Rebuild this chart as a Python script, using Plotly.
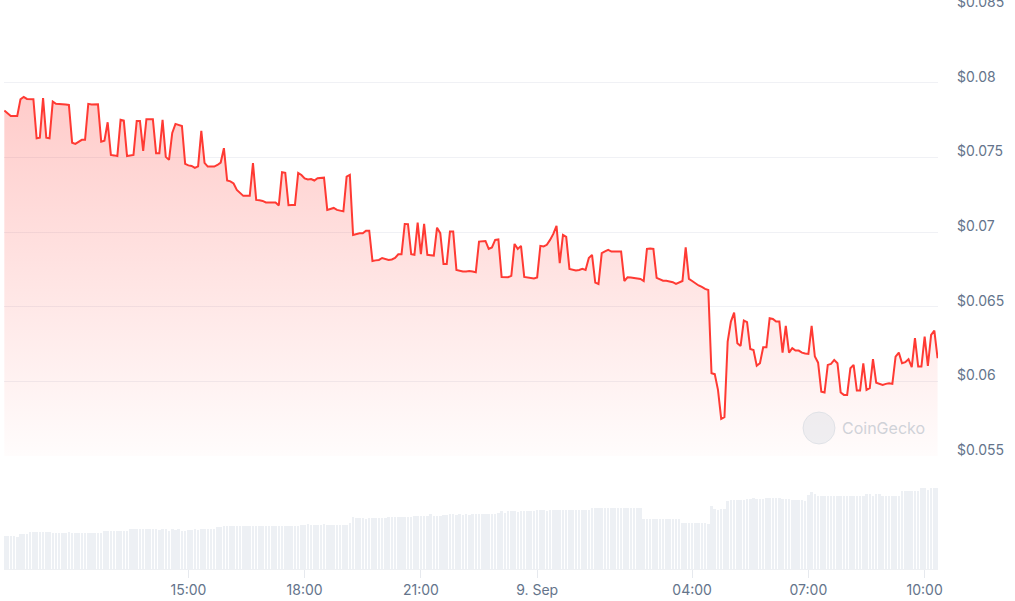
import pandas as pd
import plotly.graph_objects as go

start_time = "2024-09-08 10:15"
step = "5min"

prices = [
    0.07813, 0.07797, 0.07777, 0.07777, 0.07777, 0.07889, 0.07904, 0.07891, 0.07889, 0.07889,
    0.07628, 0.07632, 0.07896, 0.07632, 0.07628, 0.07873, 0.07858, 0.07858, 0.07858, 0.07854,
    0.07851, 0.07598, 0.07590, 0.07603, 0.07617, 0.07617, 0.07858, 0.07854, 0.07854, 0.07856,
    0.07605, 0.07612, 0.07735, 0.07516, 0.07513, 0.07509, 0.07751, 0.07746, 0.07509, 0.07513,
    0.07516, 0.07744, 0.07744, 0.07543, 0.07755, 0.07755, 0.07755, 0.07528, 0.07528, 0.07751,
    0.07503, 0.07483, 0.07663, 0.07724, 0.07717, 0.07710, 0.07456, 0.07446, 0.07442, 0.07429,
    0.07439, 0.07677, 0.07463, 0.07438, 0.07438, 0.07438, 0.07449, 0.07465, 0.07561, 0.07345,
    0.07339, 0.07325, 0.07282, 0.07262, 0.07242, 0.07242, 0.07242, 0.07461, 0.07215, 0.07212,
    0.07208, 0.07198, 0.07199, 0.07201, 0.07198, 0.07178, 0.07400, 0.07396, 0.07179, 0.07180,
    0.07181, 0.07396, 0.07382, 0.07359, 0.07352, 0.07355, 0.07345, 0.07360, 0.07362, 0.07364,
    0.07148, 0.07155, 0.07161, 0.07148, 0.07141, 0.07138, 0.07371, 0.07382, 0.06980, 0.06987,
    0.06991, 0.06991, 0.07009, 0.07009, 0.06806, 0.06810, 0.06813, 0.06826, 0.06820, 0.06813,
    0.06816, 0.06826, 0.06851, 0.06851, 0.07054, 0.07053, 0.06851, 0.06847, 0.07063, 0.06851,
    0.07054, 0.06847, 0.06845, 0.06842, 0.07029, 0.06992, 0.06786, 0.06786, 0.07003, 0.07003,
    0.06746, 0.06739, 0.06736, 0.06736, 0.06739, 0.06736, 0.06731, 0.06936, 0.06937, 0.06940,
    0.06887, 0.06897, 0.06947, 0.06950, 0.06699, 0.06697, 0.06697, 0.06706, 0.06920, 0.06887,
    0.06907, 0.06699, 0.06695, 0.06689, 0.06689, 0.06696, 0.06907, 0.06903, 0.06914, 0.06947,
    0.06987, 0.07041, 0.06791, 0.06980, 0.06967, 0.06753, 0.06749, 0.06743, 0.06746, 0.06753,
    0.06746, 0.06826, 0.06847, 0.06661, 0.06652, 0.06858, 0.06870, 0.06880, 0.06869, 0.06869,
    0.06869, 0.06869, 0.06672, 0.06697, 0.06696, 0.06691, 0.06691, 0.06686, 0.06672, 0.06887,
    0.06890, 0.06887, 0.06693, 0.06682, 0.06674, 0.06674, 0.06669, 0.06664, 0.06652, 0.06662,
    0.06672, 0.06898, 0.06686, 0.06672, 0.06656, 0.06642, 0.06632, 0.06619, 0.06612, 0.06054,
    0.06048, 0.05943, 0.05748, 0.05760, 0.06266, 0.06400, 0.06460, 0.06255, 0.06237, 0.06407,
    0.06396, 0.06217, 0.06210, 0.06105, 0.06121, 0.06228, 0.06228, 0.06423, 0.06418, 0.06400,
    0.06400, 0.06192, 0.06371, 0.06192, 0.06222, 0.06206, 0.06206, 0.06192, 0.06187, 0.06184,
    0.06371, 0.06166, 0.06125, 0.05931, 0.05925, 0.06110, 0.06117, 0.06143, 0.06121, 0.05925,
    0.05909, 0.05909, 0.06088, 0.06110, 0.05938, 0.05938, 0.06121, 0.05943, 0.05954, 0.06148,
    0.05991, 0.05983, 0.05976, 0.05983, 0.05987, 0.05983, 0.06166, 0.06192, 0.06121, 0.06128,
    0.06148, 0.06095, 0.06289, 0.06099, 0.06099, 0.06300, 0.06103, 0.06311, 0.06340, 0.06155,
]

volumes_musd = [
    3.33, 3.33, 3.33, 3.33, 3.20, 3.50, 3.50, 3.50, 3.67, 3.67,
    3.67, 3.67, 3.67, 3.67, 3.67, 3.60, 3.60, 3.60, 3.60, 3.60,
    3.70, 3.60, 3.60, 3.60, 3.60, 3.60, 3.60, 3.60, 3.60, 3.60,
    3.60, 3.83, 3.83, 3.83, 3.83, 3.83, 3.83, 3.83, 3.83, 3.97,
    3.97, 3.97, 3.97, 3.97, 4.00, 3.97, 3.97, 3.97, 3.90, 3.97,
    3.97, 3.77, 3.97, 3.90, 3.97, 3.83, 3.83, 3.90, 3.90, 3.97,
    3.90, 4.03, 4.03, 4.03, 4.03, 4.03, 4.20, 4.20, 4.33, 4.33,
    4.33, 4.33, 4.33, 4.33, 4.33, 4.33, 4.33, 4.33, 4.33, 4.33,
    4.33, 4.33, 4.33, 4.33, 4.33, 4.33, 4.30, 4.33, 4.33, 4.33,
    4.33, 4.33, 4.37, 4.37, 4.47, 4.37, 4.37, 4.37, 4.37, 4.50,
    4.37, 4.37, 4.37, 4.37, 4.37, 4.37, 4.37, 4.60, 5.17, 5.07,
    5.07, 5.07, 5.00, 5.07, 5.07, 5.07, 5.07, 5.07, 5.07, 5.17,
    5.17, 5.17, 5.17, 5.17, 5.17, 5.17, 5.17, 5.33, 5.33, 5.33,
    5.33, 5.33, 5.50, 5.33, 5.33, 5.33, 5.40, 5.40, 5.50, 5.50,
    5.40, 5.50, 5.40, 5.50, 5.40, 5.55, 5.55, 5.55, 5.55, 5.55,
    5.55, 5.55, 5.55, 5.60, 5.77, 5.60, 5.77, 5.77, 5.77, 5.70,
    5.77, 5.77, 5.77, 5.77, 5.77, 5.87, 5.87, 5.87, 5.80, 5.87,
    5.87, 5.87, 5.87, 5.90, 5.87, 5.87, 5.87, 5.87, 5.87, 5.87,
    5.87, 5.87, 6.07, 6.07, 6.07, 6.07, 6.07, 6.07, 6.07, 6.07,
    6.07, 6.07, 6.07, 6.07, 6.07, 6.07, 6.07, 6.07, 5.00, 5.00,
    5.00, 5.00, 5.00, 5.00, 5.00, 5.00, 5.00, 5.00, 5.00, 5.00,
    4.60, 4.60, 4.60, 4.60, 4.60, 4.60, 4.60, 4.60, 4.47, 6.33,
    6.00, 5.90, 6.00, 6.00, 6.77, 6.93, 6.93, 6.93, 6.93, 6.93,
    7.03, 7.03, 7.10, 7.03, 7.03, 7.03, 7.10, 7.10, 7.10, 7.10,
    7.10, 7.03, 7.03, 7.03, 6.93, 6.93, 6.93, 6.93, 6.77, 7.43,
    7.67, 7.50, 7.27, 7.27, 7.27, 7.27, 7.27, 7.27, 7.27, 7.33,
    7.33, 7.33, 7.33, 7.33, 7.33, 7.27, 7.33, 7.53, 7.53, 7.27,
    7.53, 7.53, 7.33, 7.33, 7.33, 7.33, 7.33, 7.33, 7.77, 7.77,
    7.77, 7.77, 7.77, 7.77, 8.10, 8.10, 7.90, 8.10, 8.10, 8.10,
]

tick_times = ["2024-09-08 15:00", "2024-09-08 18:00", "2024-09-08 21:00",
              "2024-09-09 00:00", "2024-09-09 04:00", "2024-09-09 07:00",
              "2024-09-09 10:00"]
tick_labels = ["15:00", "18:00", "21:00", "9. Sep", "04:00", "07:00", "10:00"]

price_ticks = [0.055, 0.06, 0.065, 0.07, 0.075, 0.08, 0.085]
price_tick_labels = ["$0.055", "$0.06", "$0.065", "$0.07", "$0.075", "$0.08", "$0.085"]

times = pd.date_range(start=start_time, periods=len(prices), freq=step)

LINE = "#ff3a33"
TXT = "#64748b"
FONT = "Inter"

fig = go.Figure()

fig.add_trace(go.Bar(
    x=times, y=volumes_musd, yaxis="y2",
    marker=dict(color="#edf0f4", line=dict(width=0)),
    width=5 * 60 * 1000 * 0.78,
    hoverinfo="skip", showlegend=False,
))

fig.add_trace(go.Scatter(
    x=times, y=prices, mode="lines", yaxis="y",
    line=dict(color=LINE, width=2),
    fill="tozeroy",
    fillgradient=dict(
        type="vertical", start=0.055, stop=0.0791,
        colorscale=[[0, "rgba(255,58,51,0.015)"], [1, "rgba(255,58,51,0.26)"]],
    ),
    showlegend=False,
))

H_PLOT = 569.0
W_PLOT = 934.0
price_bottom = 1 - 456 / H_PLOT
price_top = 1 - 8 / H_PLOT

fig.update_layout(
    width=1015, height=601,
    margin=dict(l=4, r=77, t=0, b=32, autoexpand=False),
    paper_bgcolor="white", plot_bgcolor="white",
    font=dict(family=FONT, size=14, color=TXT),
    bargap=0,
    xaxis=dict(
        range=["2024-09-08 10:14:30", "2024-09-09 10:20:40"],
        anchor="y2", automargin=False,
        tickmode="array", tickvals=tick_times, ticktext=tick_labels,
        ticks="outside", ticklen=8, tickcolor="#e6e9ee", tickwidth=1,
        showgrid=False, zeroline=False,
        showline=True, linecolor="#eef0f3", linewidth=1,
        tickfont=dict(family=FONT, size=14, color=TXT),
    ),
    yaxis=dict(
        domain=[price_bottom, price_top],
        range=[0.055, 0.085],
        side="right", automargin=False,
        tickmode="array", tickvals=price_ticks, ticktext=price_tick_labels,
        ticklabelstandoff=18,
        ticklabelshift=-6,
        ticklabeloverflow="allow",
        showgrid=True, gridcolor="#f0f1f5", gridwidth=1,
        zeroline=False, showline=False, ticks="",
        tickfont=dict(family=FONT, size=14, color=TXT),
    ),
    yaxis2=dict(
        domain=[0, price_bottom],
        range=[0, 11.3], automargin=False,
        showgrid=False, zeroline=False, showticklabels=False, ticks="",
    ),
)

# CoinGecko watermark
fig.add_shape(type="circle", xref="paper", yref="paper",
              x0=(803 - 4) / W_PLOT, x1=(835 - 4) / W_PLOT,
              y0=1 - 444 / H_PLOT, y1=1 - 412 / H_PLOT,
              fillcolor="rgba(225,228,233,0.55)", line=dict(color="rgba(215,219,225,0.7)", width=1),
              layer="above")
fig.add_annotation(text="CoinGecko", xref="paper", yref="paper",
                   x=(840 - 4) / W_PLOT, y=1 - 428 / H_PLOT,
                   xanchor="left", yanchor="middle", showarrow=False,
                   font=dict(family=FONT, size=16, color="rgba(195,200,208,0.8)"))

fig.write_html("out.html", config={"displayModeBar": False},
               post_script="document.body.style.margin='0px';")
